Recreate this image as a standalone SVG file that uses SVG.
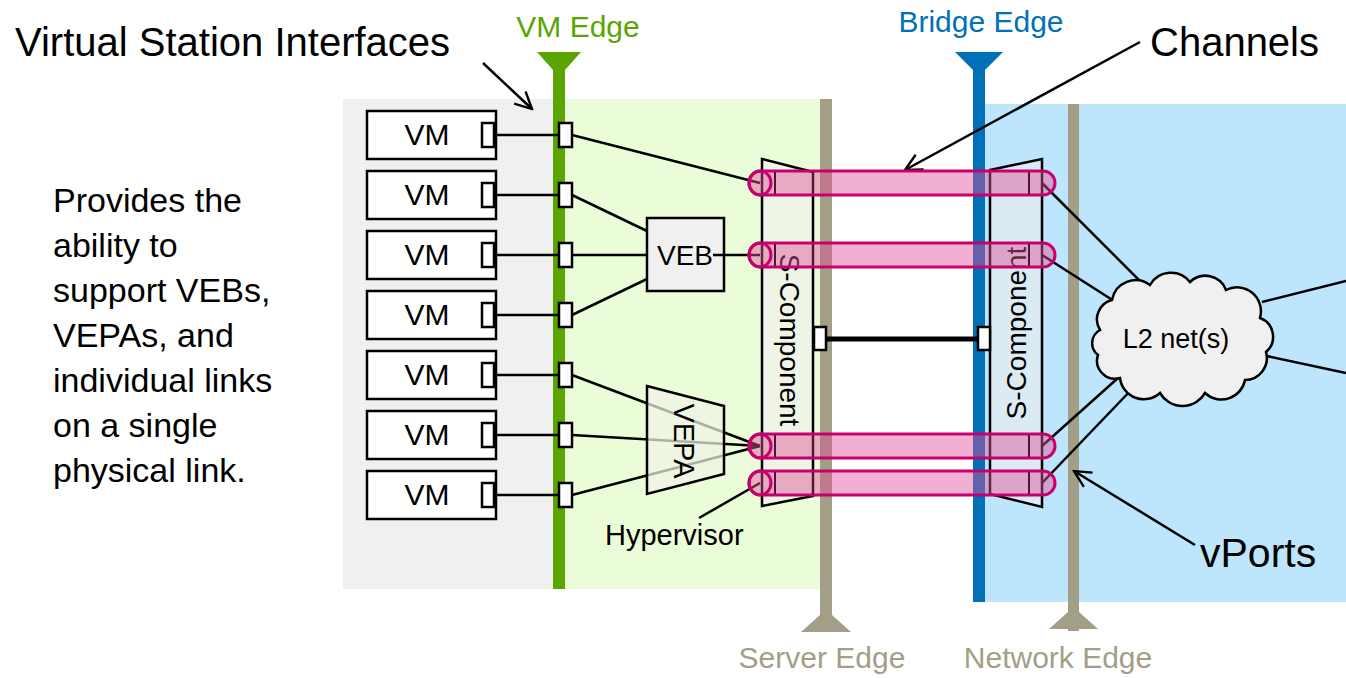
<svg xmlns="http://www.w3.org/2000/svg" width="1346" height="678" viewBox="0 0 1346 678">
<style>
text{font-family:"Liberation Sans",Arial,sans-serif;fill:#000}
.box{fill:#fff;stroke:#000;stroke-width:2.5}
.port{fill:#fff;stroke:#000;stroke-width:2.5}
.ln{stroke:#000;stroke-width:2.5;fill:none}
.vm{font-size:30px;text-anchor:middle}
.chan{fill:#e0509a;fill-opacity:0.45;stroke:#c8006e;stroke-width:3}
.chend{fill:none;stroke:#c8006e;stroke-width:3}
.chln{stroke:#5a1038;stroke-width:2}
.edge{font-size:30px;text-anchor:middle}
</style>
<defs>
<marker id="arr" viewBox="0 0 12 12" refX="11" refY="6" markerWidth="20" markerHeight="20" markerUnits="userSpaceOnUse" orient="auto">
<path d="M1,1 L11,6 L1,11" fill="none" stroke="#000" stroke-width="1.4"/>
</marker>
</defs>
<rect width="1346" height="678" fill="#fff"/>
<g id="backgrounds">
<rect x="343" y="99" width="216" height="490" fill="#f0f0f0"/>
<rect x="559" y="99" width="267" height="490" fill="#ebfcd8"/>
<rect x="979" y="104" width="367" height="498" fill="#bde5fb"/>
</g>
<g id="edges">
<rect x="553" y="60" width="12" height="529" fill="#5aa502"/>
<path d="M537,52 L581,52 L565,70 L553,70 Z" fill="#5aa502"/>
<text class="edge" x="578" y="37" style="fill:#5aa502">VM Edge</text>
<rect x="973" y="60" width="12" height="542" fill="#0070b7"/>
<path d="M955,52 L1003,52 L985,70 L973,70 Z" fill="#0070b7"/>
<text class="edge" x="981" y="32" style="fill:#0070b7">Bridge Edge</text>
<rect x="820" y="99" width="12" height="525" fill="#a39e87"/>
<path d="M820,615 L832,615 L851,632 L801,632 Z" fill="#a39e87"/>
<text class="edge" x="822" y="668" style="fill:#a39e87">Server Edge</text>
<rect x="1068" y="104" width="11" height="527" fill="#a39e87"/>
<path d="M1068,612 L1079,612 L1098,629 L1049,629 Z" fill="#a39e87"/>
<text class="edge" x="1058" y="668" style="fill:#a39e87">Network Edge</text>
</g>
<g id="labels">
<text x="15" y="56" style="font-size:40px">Virtual Station Interfaces</text>
<text x="1150" y="56" style="font-size:40px">Channels</text>
<text x="1200" y="567" style="font-size:41px">vPorts</text>
<text style="font-size:34px">
<tspan x="53" y="212">Provides the</tspan>
<tspan x="53" y="257">ability to</tspan>
<tspan x="53" y="302">support VEBs,</tspan>
<tspan x="53" y="347">VEPAs, and</tspan>
<tspan x="53" y="392">individual links</tspan>
<tspan x="53" y="437">on a single</tspan>
<tspan x="53" y="482">physical link.</tspan>
</text>
<text x="605" y="545" style="font-size:29px">Hypervisor</text>
</g>
<g id="s-component-left">
<path d="M762,159 L813,172 L813,496 L762,506 Z" fill="#eef4e6" stroke="#000" stroke-width="2.5"/>
<text transform="translate(789,340) rotate(90)" text-anchor="middle" dominant-baseline="central" style="font-size:28px">S-Component</text>
<rect class="port" x="814" y="327" width="12" height="23"/>
</g>
<g id="s-component-right">
<path d="M990,170 L1042,159 L1042,507 L990,494 Z" fill="#dbeaf3" stroke="#000" stroke-width="2.5"/>
<text transform="translate(1016,333) rotate(-90)" text-anchor="middle" dominant-baseline="central" style="font-size:28px">S-Component</text>
<rect class="port" x="978" y="327" width="12" height="23"/>
</g>
<g id="connectors">
<line class="ln" x1="826" y1="339" x2="978" y2="339" style="stroke-width:5"/>
<line class="ln" x1="494" y1="135" x2="559" y2="135"/>
<line class="ln" x1="494" y1="195" x2="559" y2="195"/>
<line class="ln" x1="494" y1="255" x2="559" y2="255"/>
<line class="ln" x1="494" y1="315" x2="559" y2="315"/>
<line class="ln" x1="494" y1="375" x2="559" y2="375"/>
<line class="ln" x1="494" y1="435" x2="559" y2="435"/>
<line class="ln" x1="494" y1="495" x2="559" y2="495"/>
<line class="ln" x1="572" y1="135" x2="760" y2="183"/>
<line class="ln" x1="572" y1="195" x2="647" y2="231"/>
<line class="ln" x1="572" y1="255" x2="647" y2="255"/>
<line class="ln" x1="572" y1="315" x2="647" y2="279"/>
<line class="ln" x1="713" y1="255" x2="760" y2="255"/>
<line class="ln" x1="572" y1="375" x2="760" y2="446"/>
<line class="ln" x1="572" y1="435" x2="760" y2="446"/>
<line class="ln" x1="572" y1="495" x2="760" y2="446"/>
<line class="ln" x1="699" y1="518" x2="760" y2="483"/>
<line class="ln" x1="1042" y1="183" x2="1158" y2="299"/>
<line class="ln" x1="1042" y1="255" x2="1114" y2="301"/>
<line class="ln" x1="1042" y1="446" x2="1118" y2="378"/>
<line class="ln" x1="1042" y1="483" x2="1134" y2="387"/>
<line class="ln" x1="1262" y1="302" x2="1346" y2="281"/>
<line class="ln" x1="1262" y1="355" x2="1346" y2="373"/>
<line class="ln" x1="483" y1="63" x2="532" y2="109" marker-end="url(#arr)"/>
<line class="ln" x1="1140" y1="42" x2="905" y2="170" marker-end="url(#arr)"/>
<line class="ln" x1="1195" y1="545" x2="1074" y2="471" marker-end="url(#arr)"/>
</g>
<g id="vms">
<g id="vm1"><rect class="box" x="367" y="111" width="129" height="48"/><text class="vm" x="427" y="145">VM</text><rect class="port" x="482" y="123" width="12" height="24"/><rect class="port" x="559" y="123" width="13" height="24"/></g>
<g id="vm2"><rect class="box" x="367" y="171" width="129" height="48"/><text class="vm" x="427" y="205">VM</text><rect class="port" x="482" y="183" width="12" height="24"/><rect class="port" x="559" y="183" width="13" height="24"/></g>
<g id="vm3"><rect class="box" x="367" y="231" width="129" height="48"/><text class="vm" x="427" y="265">VM</text><rect class="port" x="482" y="243" width="12" height="24"/><rect class="port" x="559" y="243" width="13" height="24"/></g>
<g id="vm4"><rect class="box" x="367" y="291" width="129" height="48"/><text class="vm" x="427" y="325">VM</text><rect class="port" x="482" y="303" width="12" height="24"/><rect class="port" x="559" y="303" width="13" height="24"/></g>
<g id="vm5"><rect class="box" x="367" y="351" width="129" height="48"/><text class="vm" x="427" y="385">VM</text><rect class="port" x="482" y="363" width="12" height="24"/><rect class="port" x="559" y="363" width="13" height="24"/></g>
<g id="vm6"><rect class="box" x="367" y="411" width="129" height="48"/><text class="vm" x="427" y="445">VM</text><rect class="port" x="482" y="423" width="12" height="24"/><rect class="port" x="559" y="423" width="13" height="24"/></g>
<g id="vm7"><rect class="box" x="367" y="471" width="129" height="48"/><text class="vm" x="427" y="505">VM</text><rect class="port" x="482" y="483" width="12" height="24"/><rect class="port" x="559" y="483" width="13" height="24"/></g>
</g>
<g id="veb">
<rect x="647" y="218" width="77" height="73" fill="#f0f0f0" stroke="#000" stroke-width="2.5"/>
<text x="685" y="265" text-anchor="middle" style="font-size:28px">VEB</text>
<line class="ln" x1="713" y1="255" x2="724" y2="255"/>
</g>
<g id="vepa">
<path d="M647,386 L724,406 L724,474 L647,494 Z" fill="#eef3e4" fill-opacity="0.72" stroke="#000" stroke-width="2.5"/>
<text transform="translate(684,441) rotate(90)" text-anchor="middle" dominant-baseline="central" style="font-size:29px">VEPA</text>
</g>
<g id="cloud">
<path d="M1100,330 A20,20 0 0 1 1112,300 A24,24 0 0 1 1150,285 A24,24 0 0 1 1190,282 A22,22 0 0 1 1226,290 A24,24 0 0 1 1260,318 A20,20 0 0 1 1266,352 A22,22 0 0 1 1245,380 A24,24 0 0 1 1205,393 A26,26 0 0 1 1160,393 A24,24 0 0 1 1120,378 A18,18 0 0 1 1098,355 A15,15 0 0 1 1100,330 Z" fill="#f0f0f0" stroke="#000" stroke-width="2.5"/>
<text x="1176" y="348" text-anchor="middle" style="font-size:27px">L2 net(s)</text>
</g>
<g id="channels">
<g id="ch1"><rect class="chan" x="749" y="171" width="306" height="24" rx="12"/><line class="chln" x1="775" y1="172" x2="775" y2="194"/><line class="chln" x1="813" y1="172" x2="813" y2="194"/><line class="chln" x1="1029" y1="172" x2="1029" y2="194"/><ellipse class="chend" cx="760" cy="183" rx="11" ry="12"/></g>
<g id="ch2"><rect class="chan" x="749" y="243" width="306" height="24" rx="12"/><line class="chln" x1="775" y1="244" x2="775" y2="266"/><line class="chln" x1="813" y1="244" x2="813" y2="266"/><line class="chln" x1="1029" y1="244" x2="1029" y2="266"/><ellipse class="chend" cx="760" cy="255" rx="11" ry="12"/></g>
<g id="ch3"><rect class="chan" x="749" y="434" width="306" height="24" rx="12"/><line class="chln" x1="775" y1="435" x2="775" y2="457"/><line class="chln" x1="813" y1="435" x2="813" y2="457"/><line class="chln" x1="1029" y1="435" x2="1029" y2="457"/><ellipse class="chend" cx="760" cy="446" rx="11" ry="12"/></g>
<g id="ch4"><rect class="chan" x="749" y="471" width="306" height="24" rx="12"/><line class="chln" x1="775" y1="472" x2="775" y2="494"/><line class="chln" x1="813" y1="472" x2="813" y2="494"/><line class="chln" x1="1029" y1="472" x2="1029" y2="494"/><ellipse class="chend" cx="760" cy="483" rx="11" ry="12"/></g>
</g>
</svg>
